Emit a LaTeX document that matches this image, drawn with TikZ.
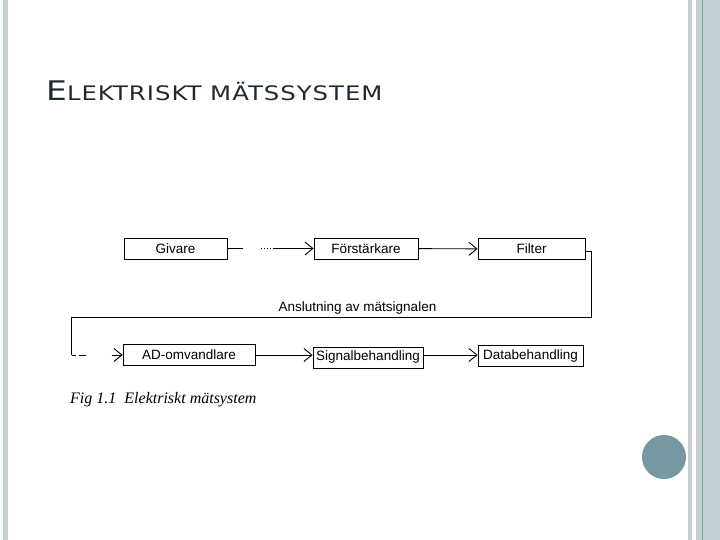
\documentclass[tikz,border=0pt]{standalone}
\usepackage{fontspec}
\setmainfont{Liberation Sans}
\newfontfamily\titlefont[LetterSpace=4]{DejaVu Sans}
\newfontfamily\captfont{Liberation Serif}
\usepackage{tikz}
\usetikzlibrary{calc,arrows.meta,positioning}
\definecolor{barcol}{HTML}{C4CFD4}
\definecolor{bardark}{HTML}{8FA1A9}
\definecolor{dotcol}{HTML}{7598A2}
\definecolor{titlecol}{HTML}{1F2A30}
\tikzset{
    block/.style={
        draw,line width=0.8pt,
        fill=white,
        minimum height=21pt,inner sep=0pt,
        font=\fontsize{13.5}{16}\selectfont
    },
    line/.style={draw,line width=0.9pt},
    >={Straight Barb[length=8pt,width=13pt]}
}
\begin{document}
\begin{tikzpicture}[x=1pt,y=-1pt]
\useasboundingbox (0,0) rectangle (720,540);
% slide frame
\fill[barcol] (3,0) rectangle (8,540);
\fill[barcol] (688,0) rectangle (692,540);
\fill[barcol] (696,0) rectangle (720,540);
\draw[bardark,line width=0.8pt] (702,0) -- (702,540);
\fill[dotcol] (664,457) circle (22);
\node[anchor=base west,inner sep=0pt,text=titlecol] (title) at (46,101)
    {\scalebox{1.22}[1]{\titlefont{\fontsize{27}{30}\selectfont E}{\fontsize{20}{24}\selectfont LEKTRISKT M\"ATSSYSTEM}}};
% blocks
\foreach \name/\x/\y/\w/\txt in {givare/175.5/248.5/103/Givare,
        forst/366/248.5/104/F\"orst\"arkare,
        filter/531.5/249/107/Filter,
        ad/189/355/132/AD-omvandlare,
        signal/368/357.5/110/Signalbehandling,
        data/530.5/356/105/Databehandling}
    \node[block,minimum width=\w pt] (\name) at (\x,\y) {\txt};
\draw[line,->,dash pattern=on 16pt off 18pt on 1pt off 2pt on 1pt off 2pt on 1pt off 2pt on 1pt off 2pt on 100pt]
    (givare) -- (forst);
\draw[line,->] (forst) -- (filter);
% return path
\coordinate (ret) at (591.7,317);
\coordinate (lb) at (71.7,355);
\draw[line] ([yshift=-2pt]filter.east) -| (ret) -| (lb);
\draw[line,->,dash pattern=on 4pt off 3pt on 7pt off 26pt on 30pt] (lb) -- (ad);
\node[font=\fontsize{13.5}{16}\selectfont,anchor=base] (anslut) at (357.5,311) {Anslutning av m\"atsignalen};
\draw[line,->] (ad) -- (signal.west |- ad);
\draw[line,->] (signal.east |- ad) -- (data.west |- ad);
% caption
\node[anchor=base west,inner sep=0pt,font=\captfont\itshape\fontsize{16}{19}\selectfont] (capt) at (70,403)
    {Fig 1.1\ \ Elektriskt m\"atsystem};
\end{tikzpicture}
\end{document}
